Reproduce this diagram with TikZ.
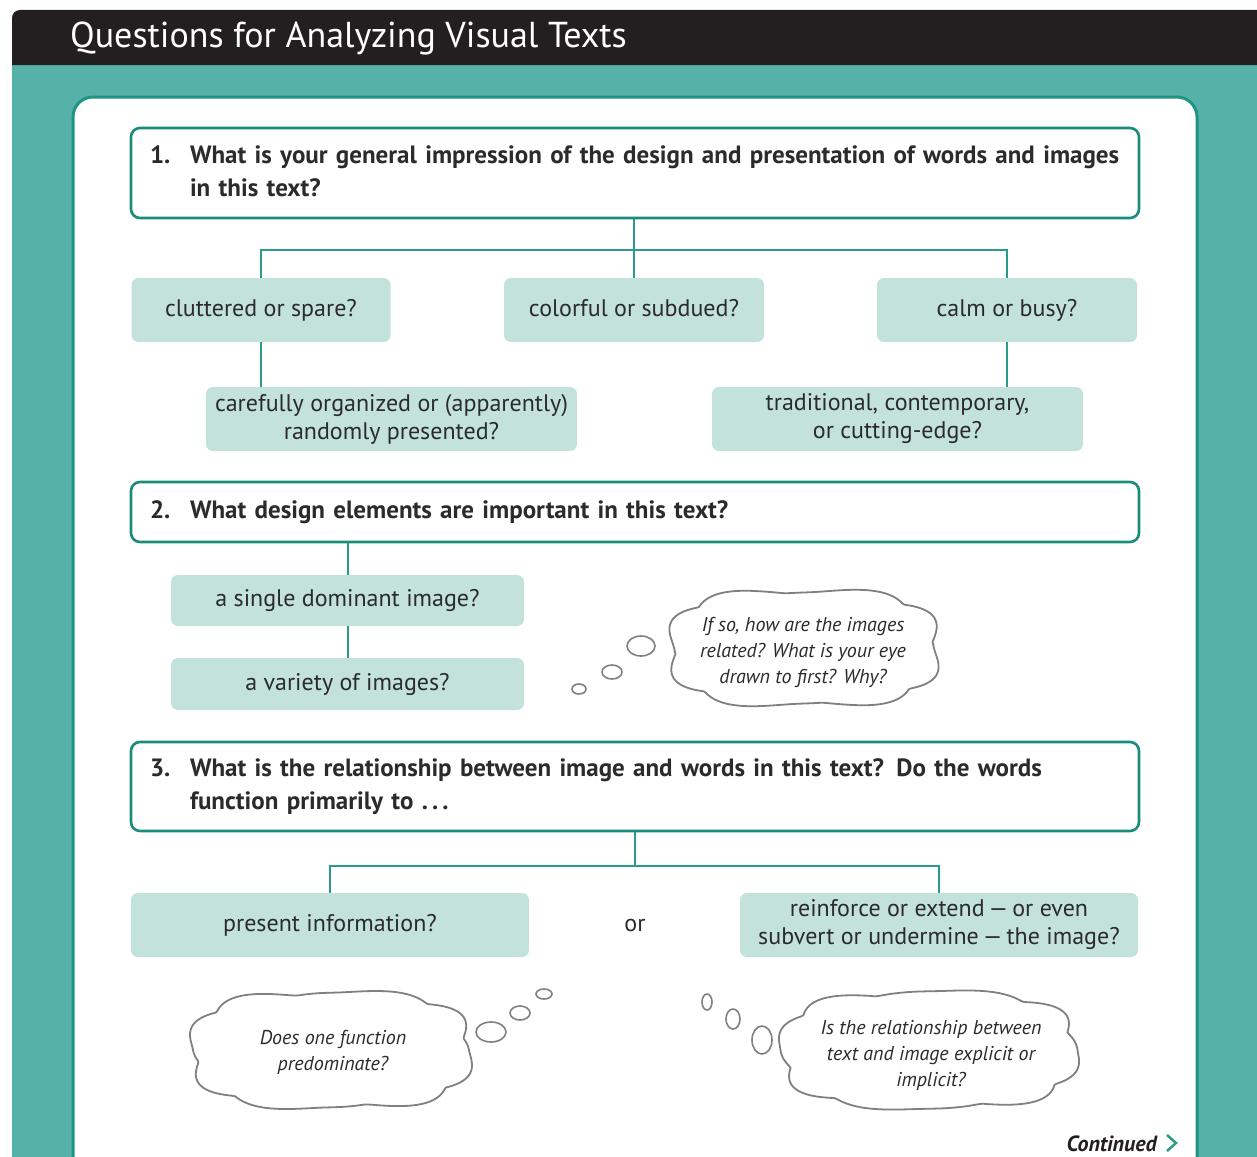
\documentclass[tikz,border=0pt]{standalone}
\usepackage{fontspec}
\setmainfont{PT Sans}
\definecolor{hdr}{HTML}{231F20}
\definecolor{tealbg}{HTML}{56B1A9}
\definecolor{panelb}{HTML}{1E9482}
\definecolor{qborder}{HTML}{1A8C7C}
\definecolor{lightbox}{HTML}{C3E2DC}
\definecolor{linecol}{HTML}{2A9A8A}
\definecolor{txt}{HTML}{2B2B2B}
\definecolor{cloudcol}{HTML}{808080}
% cloud outline: center (#1,#2), half sizes #3,#4, phase #5
\newcommand{\cloudpath}[5]{%
  \draw[cloudline] plot[smooth cycle, domain=1:359, samples=180]
    ({#1 + #3*(0.93+0.07*abs(sin(4*\x+#5)))*cos(\x)*pow(abs(cos(\x)),-0.35)},
     {#2 + #4*(0.91+0.09*abs(sin(4*\x+#5)))*sin(\x)*pow(abs(sin(\x)),-0.25)});}
\begin{document}
\begin{tikzpicture}[x=1pt,y=-1pt,
  qbox/.style={draw=qborder, line width=2.6pt, rounded corners=9pt, fill=white,
    minimum width=1008pt, inner xsep=19pt, inner ysep=0pt, text=txt,
    font=\bfseries\fontsize{25}{33}\selectfont, text width=970pt, align=left},
  abox/.style={fill=lightbox, rounded corners=7pt, text=txt, align=center,
    minimum height=64pt, inner sep=0pt, font=\fontsize{24}{28}\selectfont},
  oneline/.style={text height=17pt, text depth=5pt},
  conn/.style={draw=linecol, line width=2pt},
  thought/.style={inner sep=0pt, text=txt, align=center,
    font=\itshape\fontsize{20}{26}\selectfont},
  cloudline/.style={draw=cloudcol, line width=1.8pt},
  bubble/.style={draw=cloudcol, line width=1.6pt}]
\useasboundingbox (0,0) rectangle (1257,1156);
\clip (0,0) rectangle (1257,1156);
\fill[white] (0,0) rectangle (1257,1156);
\fill[tealbg] (12,60) rectangle (1270,1170);
\fill[hdr] (12,65) [rounded corners=8pt] -- (12,10) -- (1270,10) [sharp corners] -- (1270,65) -- cycle;
\node[anchor=base west, white, inner sep=0pt, font=\fontsize{36}{36}\selectfont] (title) at (70,48) {Questions for Analyzing Visual Texts};
\draw[panelb, line width=3pt, fill=white, rounded corners=20pt] (73,97) rectangle (1197,1300);

% Section 1
\node[qbox, minimum height=90pt] (q1) at (635,173) {\begin{tabular}{@{}p{40pt}@{}l@{}}1. & What is your general impression of the design and presentation of words and images\\ & in this text?\end{tabular}};
\node[abox, oneline, minimum width=259pt] (a) at (261,310) {cluttered or spare?};
\node[abox, oneline, minimum width=260pt] (b) at (634,310) {colorful or subdued?};
\node[abox, oneline, minimum width=260pt] (c) at (1007,310) {calm or busy?};
\node[abox, minimum width=371pt] (d) at (391.5,419) {carefully organized or (apparently)\\ randomly presented?};
\node[abox, minimum width=371pt] (e) at (897.5,419) {traditional, contemporary,\\ or cutting-edge?};
\draw[conn] (q1.south -| b.north) -- (b.north);
\draw[conn] (a.north) -- ++(0,-28) -| (c.north);
\draw[conn] (a.south) -- (a.south |- d.north);
\draw[conn] (c.south) -- (c.south |- e.north);

% Section 2
\node[qbox, minimum height=60pt] (q2) at (635,512) {\begin{tabular}{@{}p{40pt}@{}l@{}}2. & What design elements are important in this text?\end{tabular}};
\node[abox, oneline, minimum width=353pt, minimum height=51pt] (f) at (347.5,600.5) {a single dominant image?};
\node[abox, oneline, minimum width=353pt, minimum height=52pt] (g) at (347.5,684) {a variety of images?};
\draw[conn] (f.north |- q2.south) -- (f.north);
\draw[conn] (f.south) -- (g.north);
\cloudpath{804}{648}{138}{60}{10}
\node[thought] (cl1) at (803,652) {If so, how are the images\\ related? What is your eye\\ drawn to first? Why?};
\draw[bubble] (579,689) ellipse [x radius=7pt, y radius=5pt];
\draw[bubble] (612,672) ellipse [x radius=10pt, y radius=7pt];
\draw[bubble] (641,646) ellipse [x radius=14pt, y radius=10pt];

% Section 3
\node[qbox, minimum height=89pt] (q3) at (635,786.5) {\begin{tabular}{@{}p{40pt}@{}l@{}}3. & What is the relationship between image and words in this text? Do the words\\ & function primarily to .\,.\,.\end{tabular}};
\node[abox, oneline, minimum width=398pt] (h) at (330,925) {present information?};
\node[text=txt, font=\fontsize{24}{28}\selectfont, inner sep=0pt, oneline] (or) at (635,925) {or};
\node[abox, minimum width=398pt] (i) at (939,925) {reinforce or extend\,---\,or even\\ subvert or undermine\,---\,the image?};
\draw[conn] (q3.south) -- ++(0,34) coordinate (j3);
\draw[conn] (h.north) |- (j3) -| (i.north);
\cloudpath{331}{1050}{143}{60}{30}
\node[thought] (cl2) at (333,1052) {Does one function\\ predominate?};
\draw[bubble] (491,1032) ellipse [x radius=15pt, y radius=10pt];
\draw[bubble] (520,1013) ellipse [x radius=10pt, y radius=7pt];
\draw[bubble] (544,994) ellipse [x radius=8pt, y radius=5pt];
\cloudpath{929}{1050}{151}{60}{50}
\node[thought] (cl3) at (931,1055) {Is the relationship between\\ text and image explicit or\\ implicit?};
\draw[bubble] (707,1002) ellipse [x radius=5pt, y radius=8pt];
\draw[bubble] (733,1019) ellipse [x radius=7pt, y radius=10pt];
\draw[bubble] (762,1040) ellipse [x radius=10pt, y radius=14pt];

\node[anchor=base east, inner sep=0pt, text=hdr, font=\bfseries\itshape\fontsize{22}{22}\selectfont] (cont) at (1157,1151) {Continued};
\draw[linecol, line width=2.5pt] (1167,1135) -- (1176,1143) -- (1167,1151);
\end{tikzpicture}
\end{document}
